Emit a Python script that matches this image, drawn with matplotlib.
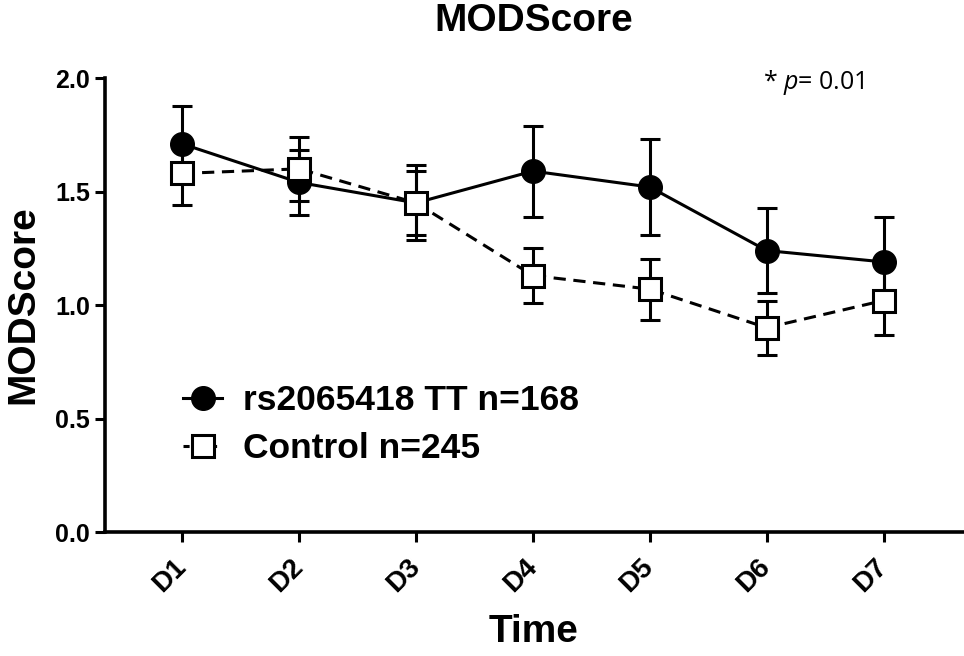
import matplotlib
matplotlib.use("Agg")
import matplotlib.pyplot as plt
from matplotlib.lines import Line2D
import numpy as np

days = ["D1", "D2", "D3", "D4", "D5", "D6", "D7"]
tt_mean = [1.71, 1.54, 1.45, 1.59, 1.52, 1.24, 1.19]
tt_err = [0.165, 0.143, 0.165, 0.20, 0.21, 0.187, 0.196]
ctrl_mean = [1.58, 1.60, 1.45, 1.13, 1.07, 0.90, 1.02]
ctrl_err = [0.14, 0.14, 0.14, 0.123, 0.135, 0.12, 0.15]
tt_label = "rs2065418 TT n=168"
ctrl_label = "Control n=245"

plt.rcParams['font.family'] = ['Liberation Sans', 'DejaVu Sans']
plt.rcParams['mathtext.fontset'] = 'custom'
plt.rcParams['mathtext.it'] = 'Open Sans:italic'
plt.rcParams['mathtext.rm'] = 'Open Sans'

fig = plt.figure(figsize=(9.64, 6.56), dpi=100)
ax = fig.add_axes([0.109, 0.189, 0.89, 0.692])

x = np.arange(len(days))
lw = 2.2
dash = (0, (4, 2.5))
ax.errorbar(x, tt_mean, yerr=tt_err, color='black', lw=lw, elinewidth=2.2,
            capsize=7.5, capthick=2.2, marker='o', markersize=17,
            markerfacecolor='black', markeredgecolor='black', zorder=3)
ax.errorbar(x, ctrl_mean, yerr=ctrl_err, color='black', lw=lw, ls=dash,
            elinewidth=2.2, capsize=7.5, capthick=2.2, marker='s', markersize=16,
            markerfacecolor='white', markeredgecolor='black', markeredgewidth=2.2,
            zorder=4)

ax.set_xlim(-0.66, 6.68)
ax.set_ylim(0, 2.0)
ax.set_yticks([0.0, 0.5, 1.0, 1.5, 2.0])
ax.set_yticklabels(["0.0", "0.5", "1.0", "1.5", "2.0"], fontsize=18, fontweight='bold')
ax.set_xticks(x)
ax.set_xticklabels(days, fontsize=20, fontweight='bold', rotation=45,
                   ha='right', va='center', rotation_mode='anchor')
ax.tick_params(axis='both', width=2.2, length=7, direction='out')
ax.tick_params(axis='x', pad=15)
ax.tick_params(axis='y', pad=4)
for s in ['top', 'right']:
    ax.spines[s].set_visible(False)
for s in ['left', 'bottom']:
    ax.spines[s].set_linewidth(2.6)

ax.set_title("MODScore", fontsize=28, fontweight='bold', pad=34)
ax.set_ylabel("MODScore", fontsize=28, fontweight='bold', labelpad=10)
ax.set_xlabel("Time", fontsize=28, fontweight='bold', labelpad=12)

ax.text(0.767, 0.99, r"* $\mathit{p}$= 0.01", transform=ax.transAxes,
        fontsize=18, ha='left', va='center', family='Open Sans')

handles = [
    Line2D([], [], color='black', lw=lw, marker='o', markersize=17,
           markerfacecolor='black', markeredgecolor='black'),
    Line2D([], [], color='black', lw=lw, ls=(0, (2, 2.5)), marker='s', markersize=16,
           markerfacecolor='white', markeredgecolor='black', markeredgewidth=2.2),
]
leg = ax.legend(handles, [tt_label, ctrl_label], loc='upper left',
                bbox_to_anchor=(0.091, 0.325), frameon=False,
                prop={'weight': 'bold', 'size': 25.5}, borderpad=0, borderaxespad=0,
                handlelength=1.1, handletextpad=0.6, labelspacing=0.42)

fig.savefig("out.png", dpi=100)
